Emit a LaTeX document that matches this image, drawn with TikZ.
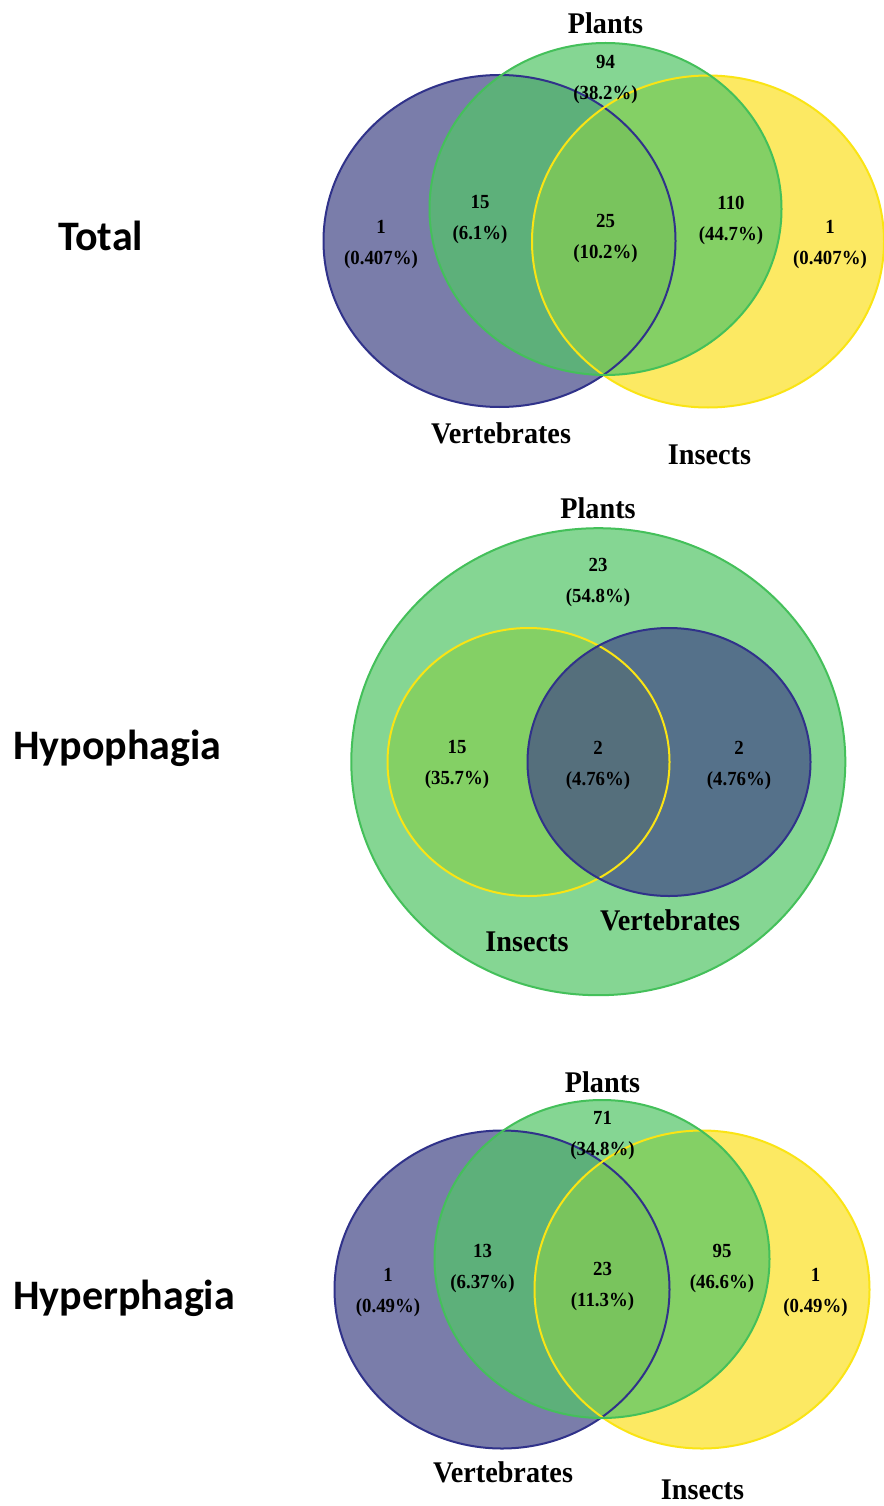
\documentclass[tikz,border=0pt]{standalone}
\usepackage{fontspec}
\setmainfont{Liberation Serif}
\newfontfamily\titlefont{Carlito}
\newfontfamily\vfont[FakeStretch=0.94]{Liberation Serif}
\usetikzlibrary{shapes.geometric}
\definecolor{vfill}{RGB}{66,71,135}
\definecolor{gfill}{RGB}{82,198,102}
\definecolor{yfill}{RGB}{252,224,33}
\definecolor{vline}{RGB}{48,50,138}
\definecolor{gline}{RGB}{68,192,90}
\definecolor{yline}{RGB}{250,228,20}
\begin{document}
\begin{tikzpicture}[x=1pt,y=-1pt,
  setfill/.style={ellipse, inner sep=0pt, fill opacity=0.7, draw=none},
  big/.style={minimum width=352pt, minimum height=332pt},
  mid/.style={minimum width=335pt, minimum height=318pt},
  vl/.style={draw=vline, line width=2pt},
  gl/.style={draw=gline, line width=2pt},
  yl/.style={draw=yline, line width=2pt},
  num/.style={font=\vfont\bfseries\fontsize{20}{31}\selectfont, align=center, inner sep=0pt},
  lab/.style={font=\vfont\bfseries\fontsize{30}{32}\selectfont, inner sep=0pt},
  ttl/.style={font=\titlefont\bfseries\fontsize{42}{48}\selectfont, inner sep=0pt, anchor=base west}
]
\useasboundingbox (0,0) rectangle (883,1506);
\fill[white] (0,0) rectangle (883,1506);

% ---------------- Total ----------------
\node[setfill, big, fill=vfill] (vT) at (499.5,241) {};
\node[setfill, big, fill=yfill] (yT) at (708,241.5) {};
\node[setfill, big, fill=gfill] (gT) at (605.5,209) {};
\draw[vl] (vT.center) ellipse [x radius=176pt, y radius=166pt];
\draw[yl] (yT.center) ellipse [x radius=176pt, y radius=166pt];
\draw[gl] (gT.center) ellipse [x radius=176pt, y radius=166pt];

\node[ttl] (tTotal) at (58,251) {Total};
\node[lab] (lTp) at (605.5,23) {Plants};
\node[lab] (lTv) at (501,433) {Vertebrates};
\node[lab] (lTi) at (709.5,455) {Insects};
\node[num] (nT1) at (605.5,80) {94\\(38.2\%)};
\node[num] (nT2) at (480,220) {15\\(6.1\%)};
\node[num] (nT3) at (605.5,239) {25\\(10.2\%)};
\node[num] (nT4) at (731,220) {110\\(44.7\%)};
\node[num] (nT5) at (381,245) {1\\(0.407\%)};
\node[num] (nT6) at (830,245) {1\\(0.407\%)};

% ---------------- Hypophagia ----------------
\node[setfill, minimum width=282pt, minimum height=268pt, fill=yfill] (yH) at (528.5,762) {};
\node[setfill, minimum width=494pt, minimum height=467pt, fill=gfill] (gH) at (598.3,761.7) {};
\node[setfill, minimum width=283pt, minimum height=268pt, fill=vfill] (vH) at (669,762) {};
\draw[gl] (gH.center) ellipse [x radius=247pt, y radius=233.5pt];
\draw[yl] (yH.center) ellipse [x radius=141pt, y radius=134pt];
\draw[vl] (vH.center) ellipse [x radius=141.5pt, y radius=134pt];

\node[ttl] (tHypo) at (13,759.3) {Hypophagia};
\node[lab] (lHp) at (598,508) {Plants};
\node[lab] (lHv) at (670,920) {Vertebrates};
\node[lab] (lHi) at (527,942) {Insects};
\node[num] (nH1) at (598,583) {23\\(54.8\%)};
\node[num] (nH2) at (457,765) {15\\(35.7\%)};
\node[num] (nH3) at (598,765) {2\\(4.76\%)};
\node[num] (nH4) at (739,765) {2\\(4.76\%)};

% ---------------- Hyperphagia ----------------
\node[setfill, mid, fill=vfill] (vP) at (502,1289.5) {};
\node[setfill, mid, fill=yfill] (yP) at (702,1289.5) {};
\node[setfill, mid, fill=gfill] (gP) at (602,1259) {};
\draw[vl] (vP.center) ellipse [x radius=167.5pt, y radius=159pt];
\draw[yl] (yP.center) ellipse [x radius=167.5pt, y radius=159pt];
\draw[gl] (gP.center) ellipse [x radius=167.5pt, y radius=159pt];

\node[ttl] (tHyper) at (13,1309.3) {Hyperphagia};
\node[lab] (lPp) at (602.5,1082) {Plants};
\node[lab] (lPv) at (503,1472) {Vertebrates};
\node[lab] (lPi) at (702.5,1490) {Insects};
\node[num] (nP1) at (602.5,1136) {71\\(34.8\%)};
\node[num] (nP2) at (482.5,1268.5) {13\\(6.37\%)};
\node[num] (nP3) at (602.5,1286.5) {23\\(11.3\%)};
\node[num] (nP4) at (722,1268.5) {95\\(46.6\%)};
\node[num] (nP5) at (388,1292.5) {1\\(0.49\%)};
\node[num] (nP6) at (815.5,1292.5) {1\\(0.49\%)};
\end{tikzpicture}
\end{document}
